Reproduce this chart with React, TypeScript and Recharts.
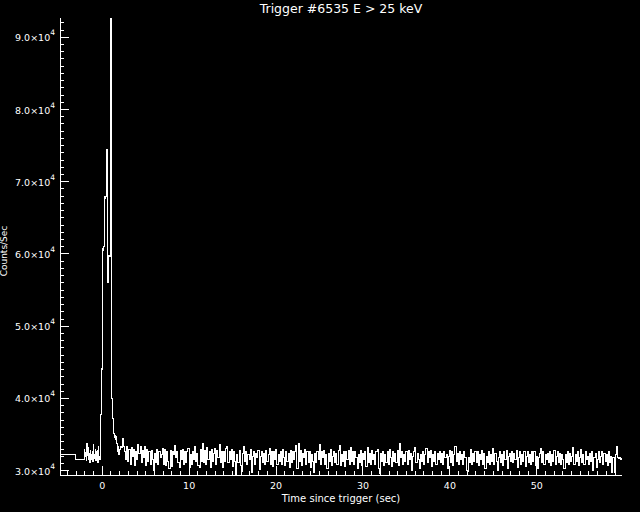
import { LineChart, Line, XAxis, YAxis } from 'recharts';

// axis ranges
const X_MIN = -4.86;
const X_MAX = 59.8;
const Y_MIN = 29405;
const Y_MAX = 92670;

// 1.024 s pre-trigger bins
const slowStart = -5.12;
const slowStep = 1.024;
const slowCounts = [32200, 32220, 31620];

// 64 ms bins around the burst (-2.048 .. 2.048 s)
const fastStart = -2.048;
const fastStep = 0.064;
const fastCounts = [
  32900, 31900, 32500, 31400, 33700, 32100, 33200, 31600, 32400, 31200, 32800, 31800, 32300,
  31500, 32700, 31300, 33600, 32200, 31700, 32900, 31400, 32600, 31900, 32800, 31100, 33300,
  32000, 31500, 35800, 37800,
  44100, 44000, 44300,
  60800, 60500, 61000,
  67900, 67700, 68000,
  74400, 74200, 74500,
  56100, 56400,
  59800, 59600,
  124000, 131000, 118000,
  40000, 38300, 37200, 36900, 35200, 34600, 34900, 34300, 34700,
  33700, 33200, 32600, 33400, 32300, 33000,
];

// 128 ms bins for the tail (2.048 s onwards)
const tailStart = 2.048;
const tailStep = 0.128;
const tailCounts = [
  33400, 33200, 34500, 33300, 32600, 31500, 33300, 31300, 33000, 30900, 33200, 32000, 32900, 30700, 32700, 31500,
  33600, 32400, 33400, 31100, 32800, 31800, 33300, 30700, 32900, 31300, 32600, 30900, 32800, 31500, 30000, 32400,
  31100, 33000, 30800, 32700, 31800, 32300, 33100, 30900, 32900, 30700, 32600, 31300, 30300, 32800, 30600, 32600,
  32300, 33500, 31800, 32700, 31100, 30500, 32800, 31500, 33000, 30800, 32600, 31100, 32700, 33100, 30400, 32300,
  30900, 32700, 31500, 33300, 31300, 32400, 30700, 30400, 32900, 31300, 33700, 31100, 32800, 30800, 33200, 31500,
  32700, 30500, 32900, 31300, 32400, 33100, 30900, 32800, 31800, 33600, 31100, 32600, 30400, 32700, 31300, 33100,
  33300, 31100, 32600, 31500, 32900, 30600, 32700, 31300, 29400, 32300, 31100, 32800, 30700, 29900, 32400, 33400,
  31300, 32700, 30900, 32300, 31500, 32900, 29800, 32000, 32700, 30900, 32400, 31800, 32800, 30100, 32000, 32700,
  31100, 32400, 30800, 32800, 31300, 32300, 33100, 30900, 32700, 30600, 32600, 31500, 32900, 30800, 32300, 31300,
  32600, 30900, 33000, 31800, 30700, 32700, 31300, 32400, 30500, 32800, 31100, 32600, 31500, 32700, 33500, 30300,
  33700, 31300, 32800, 30700, 32400, 31800, 32900, 30800, 32600, 31100, 32700, 30500, 32300, 31300, 29800, 32400,
  31100, 32700, 31500, 33600, 30900, 32600, 31800, 32800, 30800, 32300, 30300, 32400, 31300, 32900, 30700, 32000,
  32700, 31100, 32400, 30800, 32800, 33500, 30700, 32300, 31300, 32700, 30600, 32600, 31500, 32800, 30900, 33200,
  31300, 32600, 30900, 32700, 31800, 30300, 32300, 31100, 32800, 30700, 32400, 31500, 32700, 30600, 33200, 31100,
  32400, 30800, 32800, 31500, 32300, 30900, 32600, 33000, 30300, 29600, 32400, 31300, 32700, 30700, 32300, 31100,
  32600, 30900, 32900, 31800, 30600, 32700, 31300, 32400, 31100, 32800, 30700, 33700, 31800, 32700, 30900, 32300,
  31300, 32600, 30800, 32800, 31500, 32400, 30000, 32000, 32700, 33200, 31100, 32400, 31500, 30300, 32300, 31300,
  32700, 30900, 32300, 33100, 31100, 32600, 31800, 32800, 30600, 32300, 31300, 32700, 30900, 32400, 31500, 32600,
  31100, 32400, 30800, 32700, 31800, 32300, 30300, 32000, 32800, 31100, 32600, 30700, 32300, 33400, 31300, 32400,
  30900, 32600, 31500, 32300, 30800, 32700, 31800, 30000, 29900, 31800, 31100, 32900, 30800, 32400, 31300, 32600,
  31100, 32700, 30700, 32300, 31500, 32800, 30900, 32400, 30300, 32000, 31100, 32600, 30800, 32300, 31300, 33100,
  30900, 32400, 31300, 30000, 31800, 32700, 31100, 32300, 30700, 32600, 31500, 32800, 30300, 32000, 32400, 31300,
  32700, 31100, 32400, 31500, 32800, 30400, 31800, 32600, 30800, 32300, 31300, 32700, 30600, 32000, 32600, 31100,
  32300, 30900, 32600, 31300, 32700, 30700, 32000, 30300, 31800, 32400, 33100, 31100, 32600, 30900, 32300, 31500,
  32400, 31100, 32700, 30700, 32300, 31300, 32800, 30800, 32000, 32600, 31100, 32400, 30800, 32300, 31500, 30300,
  32300, 31100, 32600, 30800, 32400, 31300, 32000, 33200, 30900, 32300, 31300, 32700, 30700, 31800, 33000, 31100,
  32300, 30900, 32600, 31500, 32000, 30800, 32400, 31300, 32700, 30000, 31800, 32400, 30400, 31500, 32600, 31100,
  32000, 32700, 30900, 32400, 31300, 32300, 30700, 32600, 31100, 32000, 29700, 31800, 29800, 32300, 33400, 31800,
  31700, 31800, 31600, 31700,
];

// tick values
const xMajor = [0, 10, 20, 30, 40, 50];
const xTicks = Array.from({ length: 64 }, (_, i) => i - 4);
const yMajor = [30000, 40000, 50000, 60000, 70000, 80000, 90000];
const yTicks = Array.from({ length: 63 }, (_, i) => 30000 + i * 1000);

const data: { t: number; rate: number }[] = [];
slowCounts.forEach((c, i) => data.push({ t: slowStart + i * slowStep, rate: c }));
fastCounts.forEach((c, i) => data.push({ t: fastStart + i * fastStep, rate: c }));
tailCounts.forEach((c, i) => data.push({ t: tailStart + i * tailStep, rate: c }));
data.push({ t: tailStart + tailCounts.length * tailStep, rate: tailCounts[tailCounts.length - 1] });

const FONT = '"DejaVu Sans", sans-serif';
const MAJOR = 9;
const MINOR = 4;

const BottomTick = (props: any) => {
  const { x, y, payload } = props;
  const major = xMajor.includes(payload.value);
  return (
    <g>
      <line x1={x} y1={y} x2={x} y2={y - (major ? MAJOR : MINOR)} stroke="#fff" shapeRendering="crispEdges" />
      {major && (
        <text x={x} y={y + 14} textAnchor="middle" fill="#fff" fontSize={9.5} fontFamily={FONT}>
          {payload.value}
        </text>
      )}
    </g>
  );
};

const TopTick = (props: any) => {
  const { x, y, payload } = props;
  const major = xMajor.includes(payload.value);
  return <line x1={x} y1={y} x2={x} y2={y + (major ? MAJOR : MINOR)} stroke="#fff" shapeRendering="crispEdges" />;
};

const LeftTick = (props: any) => {
  const { x, y, payload } = props;
  const major = yMajor.includes(payload.value);
  return (
    <g>
      <line x1={x} y1={y} x2={x + (major ? MAJOR : MINOR)} y2={y} stroke="#fff" shapeRendering="crispEdges" />
      {major && (
        <text x={x - 5} y={y + 4} textAnchor="end" fill="#fff" fontSize={9.5} fontFamily={FONT}>
          {(payload.value / 10000).toFixed(1)}×10
          <tspan dy={-6} fontSize={7.5}>4</tspan>
        </text>
      )}
    </g>
  );
};

const RightTick = (props: any) => {
  const { x, y, payload } = props;
  const major = yMajor.includes(payload.value);
  return <line x1={x} y1={y} x2={x - (major ? MAJOR : MINOR)} y2={y} stroke="#fff" shapeRendering="crispEdges" />;
};

export default function App() {
  return (
    <div style={{ position: 'fixed', left: 0, top: 0, width: 640, height: 512, background: '#000' }}>
      <style>{`.recharts-line-curve, .recharts-cartesian-axis-line { shape-rendering: crispEdges; }`}</style>
      <LineChart width={640} height={512} data={data} margin={{ top: 18, right: 18, bottom: 7, left: 0 }}>
        <XAxis
          xAxisId="b"
          dataKey="t"
          type="number"
          domain={[X_MIN, X_MAX]}
          allowDataOverflow
          ticks={xTicks}
          interval={0}
          height={30}
          tickSize={0}
          tickMargin={0}
          tickLine={false}
          tick={BottomTick}
          axisLine={{ stroke: '#fff' }}
        />
        <XAxis
          xAxisId="top"
          orientation="top"
          dataKey="t"
          type="number"
          domain={[X_MIN, X_MAX]}
          allowDataOverflow
          ticks={xTicks}
          interval={0}
          height={0}
          tickSize={0}
          tickMargin={0}
          tickLine={false}
          tick={TopTick}
          axisLine={{ stroke: '#fff' }}
        />
        <YAxis
          yAxisId="l"
          type="number"
          domain={[Y_MIN, Y_MAX]}
          allowDataOverflow
          ticks={yTicks}
          interval={0}
          width={60}
          tickSize={0}
          tickMargin={0}
          tickLine={false}
          tick={LeftTick}
          axisLine={{ stroke: '#fff' }}
        />
        <YAxis
          yAxisId="right"
          orientation="right"
          type="number"
          domain={[Y_MIN, Y_MAX]}
          allowDataOverflow
          ticks={yTicks}
          interval={0}
          width={0}
          tickSize={0}
          tickMargin={0}
          tickLine={false}
          tick={RightTick}
          axisLine={{ stroke: '#fff' }}
        />
        <Line
          xAxisId="b"
          yAxisId="l"
          type="stepAfter"
          dataKey="rate"
          stroke="#fff"
          strokeWidth={1}
          dot={false}
          activeDot={false}
          isAnimationActive={false}
        />
        <Line
          xAxisId="top"
          yAxisId="right"
          type="stepAfter"
          dataKey="rate"
          stroke="none"
          dot={false}
          activeDot={false}
          isAnimationActive={false}
        />
        <text x={341} y={12.5} textAnchor="middle" fill="#fff" fontSize={12.5} fontFamily={FONT}>
          Trigger #6535 E &gt; 25 keV
        </text>
        <text x={341} y={502} textAnchor="middle" fill="#fff" fontSize={10} fontFamily={FONT}>
          Time since trigger (sec)
        </text>
        <text
          x={7}
          y={251}
          textAnchor="middle"
          fill="#fff"
          fontSize={9}
          fontFamily={FONT}
          transform="rotate(-90 7 251)"
        >
          Counts/Sec
        </text>
      </LineChart>
    </div>
  );
}
